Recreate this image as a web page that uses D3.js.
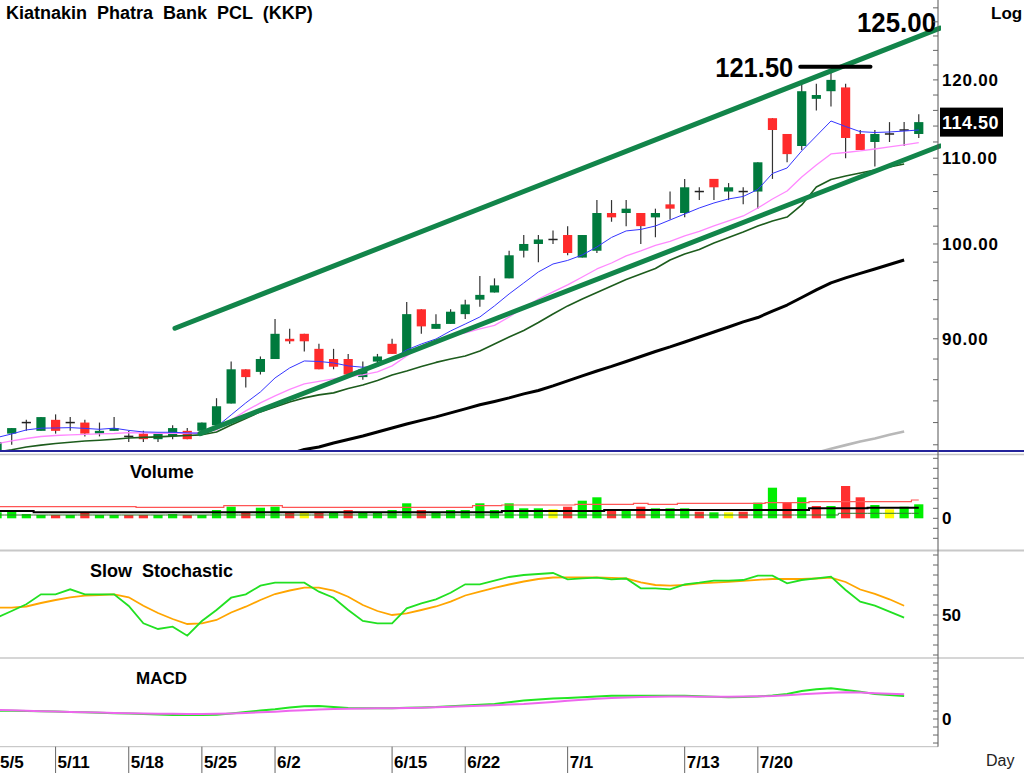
<!DOCTYPE html>
<html>
<head>
<meta charset="utf-8">
<script src="https://cdn.jsdelivr.net/npm/d3@7"></script>
<style>
body{margin:0;background:#fff}
svg{display:block}
text{font-family:Arial,"Liberation Sans",sans-serif}
</style>
</head>
<body>
<div id="chart"></div>
<script>
// trading days
var dates = ["5/5","5/6","5/7","5/8",
  "5/11","5/12","5/13","5/14","5/15",
  "5/18","5/19","5/20","5/21","5/22",
  "5/25","5/26","5/27","5/28","5/29",
  "6/2","6/4","6/5",
  "6/8","6/9","6/10","6/11","6/12",
  "6/15","6/16","6/17","6/18","6/19",
  "6/22","6/23","6/24","6/25","6/26",
  "6/29","6/30",
  "7/1","7/2","7/3",
  "7/6","7/7","7/8","7/9","7/10",
  "7/13","7/14","7/15","7/16","7/17",
  "7/20","7/21","7/22","7/23","7/24",
  "7/27","7/29","7/30","7/31",
  "8/3","8/4","8/5"];
var tickLabels = ["5/5","5/11","5/18","5/25","6/2","6/15","6/22","7/1","7/13","7/20"];

var opens  = [79.5,81,82,81.25,82.25,82,82,81,81.25,80.75, 81,80.5,80.75,81.25,81.25,81.75,83.75,87,86.75,88,
  90,90.5,89,88,88,86.25,87.75,89.5,88.5,93, 91,91.5,92.5,94,94.75,96.25,99.25,100,100.5,101,
  98.5,99.25,103.5,103.5,103.5,103,104.5,103.5,106,107.5, 106,106,106,115,113,111.5,117.5,118.5,119,113,
  112,113,113.5,113];
var highs  = [80.25,81.5,82.25,82.5,82.75,82.5,82.25,82,82.5,81.25, 81.25,81,81.75,81.5,82,84.25,87.75,87,88.25,92,
  91,90.5,89.5,89,88.5,87.75,88.5,90,93.75,93, 92.5,93,94,96.5,96.25,99.25,101,101,101.5,102,
  101,105,105,105,103.5,104,106,107.5,106.5,107.5, 107,106.5,109.5,115,113,119.5,119.5,121.5,119.5,113.5,
  113.5,114.5,114.5,115.5];
var lows   = [79.5,80,81.25,81.25,81,81.25,80.75,80.75,81.25,80.25, 80.25,80.25,80.5,80.5,81.25,81.75,83.75,85.25,86.5,88,
  89.5,88.75,87,87,86.5,86,87.5,88.5,88.5,90.5, 91,91.5,92,93.25,94.75,96.25,98.5,98,100,98.75,
  98.5,99,102.5,102,100,100.75,102.75,103,105,105, 105,104.5,104,107.5,109.5,111,116,116.5,110,111,
  109,112,111.5,112.5];
var closes = [80.25,81.5,82,82.5,81.25,82,81,81.25,81.5,80.75, 80.5,81,81.5,80.5,82,83.5,87,86.25,88,90.5,
  89.75,89.75,87,87.25,86.5,87,88.25,88.5,92.5,91.25, 91.5,92.75,93.5,94.5,95.5,98.75,100,100.5,100.5,99,
  101,103.5,103,104,102,103.5,104,106.5,106,106.5, 106.5,106,109.5,113.5,110.5,118.5,118,120,112.5,111,
  113,113,113.5,114.5];

// moving averages
var maBlue = [80.65,80.97,81.33,81.49,81.51,81.54,81.47,81.39,81.49,81.29,
  81.15,81.12,81.12,81.06,81.03,81.61,82.70,83.81,84.84,86.17,
  87.13,87.81,87.76,87.62,87.33,87.20,87.28,88.01,88.89,89.48,
  89.98,90.79,91.49,92.21,93.35,94.60,95.76,96.94,97.80,98.19,
  98.79,99.67,100.73,101.46,101.63,102.02,102.70,103.39,104.08,104.66,
  105.13,105.42,106.24,108.15,108.81,110.89,112.75,114.64,113.94,113.29,
  113.19,113.25,113.37,113.50];
var maPink = [80.1,80.34,80.56,80.74,80.83,80.89,80.94,80.97,81.01,81.08,
  81.06,81.03,81.03,81.03,81.10,81.33,82.24,83.07,83.81,84.47,
  85.08,85.60,85.84,86.08,86.32,86.46,86.75,87.33,88.30,89.29,
  89.88,90.29,90.59,91.00,91.35,92.21,93.19,94.07,94.81,95.55,
  96.40,97.26,97.91,98.68,99.23,99.84,100.29,100.90,101.40,102.02,
  102.59,103.16,104.08,105.13,106.06,107.73,109.17,110.52,110.70,110.89,
  111.13,111.38,111.63,111.92];
var maGreen = [79.37,79.56,79.80,79.97,80.11,80.22,80.34,80.41,80.50,80.60,
  80.66,80.71,80.77,80.83,80.89,81.15,81.78,82.38,82.98,83.44,
  83.90,84.28,84.56,84.75,85.17,85.50,85.93,86.46,86.84,87.28,
  87.67,88.01,88.30,88.79,89.48,90.18,90.84,91.64,92.52,93.35,
  94.07,94.76,95.44,96.13,96.72,97.31,98.24,98.90,99.39,100.11,
  100.73,101.35,102.02,102.59,103.04,104.43,106.53,107.43,107.85,108.21,
  108.57,108.93,109.29,null];
var maBlack = [null,null,null,null,null,null,null,null,null,null,
  null,null,null,null,null,null,null,null,null,null,
  79.2,79.58,79.80,80.16,80.47,80.79,81.15,81.51,81.87,82.20,
  82.52,82.89,83.26,83.64,83.95,84.28,84.66,84.98,85.41,85.89,
  86.36,86.84,87.28,87.76,88.25,88.74,89.19,89.68,90.18,90.68,
  91.19,91.71,92.15,92.82,93.44,94.23,95.02,95.77,96.30,96.79,
  97.26,97.75,98.24,null];
var maGray = [null,null,null,null,null,null,null,null,null,null,
  null,null,null,null,null,null,null,null,null,null,
  null,null,null,null,null,null,null,null,null,null,
  null,null,null,null,null,null,null,null,null,null,
  null,null,null,null,null,null,null,null,null,null,
  null,null,null,null,null,null,79.3,79.64,79.97,80.29,
  80.57,80.89,81.2,null];

// trend lines: [index, price]
var trendUpper = [[12.16, 91.06], [64.45, 127.1]];
var trendLower = [[13.87, 81.0], [64.45, 111.5]];
var highMark = [54.9, 59.7];
var highValue = 121.5;
var targetValue = 125;
var lastClose = 114.5;
var priceLabels = [90, 100, 110, 120];

// volume (millions) and day direction u/d/f
var volume = [0.6,0.66,0.43,0.33,0.33,0.33,0.6,0.33,0.33,0.33,
  0.33,0.33,0.43,0.33,0.33,0.83,1.16,0.6,1.06,1.16,
  0.6,0.6,0.6,0.6,0.83,0.6,0.6,0.83,1.5,0.83,
  0.6,0.83,0.83,1.5,0.83,1.5,1.0,1.0,0.9,1.16,
  1.76,2.1,0.83,0.83,1.16,1.0,1.0,1.0,0.66,0.6,
  0.6,0.66,1.56,3.06,1.56,2.1,1.23,1.23,3.23,2.1,
  1.33,0.9,1.16,1.4];
var volDir = ["u","u","u","u","d","u","d","u","u","d",
  "d","u","u","d","u","u","u","d","u","u",
  "d","f","d","u","d","u","u","u","u","d",
  "u","u","u","u","u","u","u","u","f","d",
  "u","u","d","u","d","u","u","u","d","u",
  "f","d","u","u","d","u","d","u","d","d",
  "u","f","u","u"];
var volRed = [1.16,1.16,1.16,1.16,1.16,1.16,1.16,1.16,1.16,1.16,
  1.1,1.1,1.1,1.1,1.1,1.1,1.26,1.26,1.26,1.26,
  1.1,1.1,1.1,1.1,1.1,1.1,1.1,1.1,1.1,1.1,
  1.1,1.1,1.1,1.26,1.26,1.33,1.33,1.33,1.33,1.33,
  1.4,1.4,1.4,1.4,1.5,1.4,1.4,1.5,1.5,1.5,
  1.5,1.5,1.5,1.56,1.56,1.56,1.66,1.66,1.66,1.66,
  1.66,1.66,1.66,1.83];
var volBlack = [0.73,0.73,0.73,0.6,0.6,0.6,0.6,0.6,0.6,0.6,
  0.6,0.6,0.6,0.6,0.6,0.6,0.6,0.6,0.6,0.6,
  0.6,0.6,0.6,0.6,0.6,0.6,0.6,0.6,0.6,0.6,
  0.6,0.6,0.6,0.6,0.6,0.73,0.73,0.73,0.73,0.73,
  0.73,0.73,0.83,0.83,0.83,0.83,0.83,0.83,0.83,0.83,
  0.83,0.83,0.83,0.83,0.83,0.83,1.0,1.0,1.0,1.0,
  1.06,1.06,1.06,1.06];
var volGreen = [0.33,0.33,0.33,0.33,0.33,0.33,0.33,0.33,0.33,0.33,
  0.33,0.33,0.33,0.33,0.33,0.33,0.33,0.33,0.33,0.33,
  0.33,0.33,0.33,0.33,0.33,0.33,0.33,0.33,0.33,0.33,
  0.33,0.33,0.33,0.33,0.33,0.33,0.33,0.33,0.33,0.33,
  0.33,0.33,0.33,0.33,0.33,0.33,0.33,0.33,0.33,0.33,
  0.33,0.33,0.33,0.33,0.33,0.33,0.33,0.33,0.5,0.5,
  0.5,0.5,0.5,0.5];

// slow stochastic
var stochK = [47.3,54,60.7,70.7,70.7,75.7,70.7,70.7,70.7,59,
  41.7,36,38.3,29.3,44,55,67.3,70.7,79.3,82.3,
  82.3,82.3,73.3,67.3,55,44,41.7,41.7,56.7,61.7,
  65.7,72.3,80.7,80.7,84.3,88,90,91,92,85.7,
  86.7,87.3,85.7,86.5,76.7,76.7,75.7,80.7,82.3,84.3,
  84.3,85,89.3,89.3,81.7,85,86.7,88.3,75,63.3,
  59.3,53.3,47.3];
var stochD = [57.3,57.3,58.5,62,65,67.7,69.3,70,70.7,67.7,
  59.3,52,46,41,41.7,45,52.5,58.3,65,71,
  74.5,77.3,77.3,74.3,68.3,60,54,50,51.7,55,
  58.5,63.3,69.5,73.3,77.2,80.5,83.5,86,87.5,87.7,
  87.7,87.7,87.2,86.5,82.7,80,79.4,80,81.7,82.3,
  83.2,84.2,85.2,86,86,86,86.5,87.3,83,75.5,
  71.2,65.7,59.3];

// MACD
var macdLine = [1.04,1.02,1.0,0.97,0.94,0.89,0.84,0.79,0.73,0.68,
  0.63,0.56,0.5,0.5,0.5,0.52,0.69,0.88,1.06,1.21,
  1.44,1.6,1.63,1.5,1.38,1.34,1.33,1.34,1.4,1.45,
  1.5,1.6,1.69,1.78,1.88,2.1,2.31,2.45,2.56,2.64,
  2.71,2.82,2.91,2.92,2.92,2.91,2.92,2.91,2.85,2.78,
  2.71,2.74,2.81,2.94,3.13,3.5,3.71,3.84,3.63,3.4,
  3.13,3.0,2.88];
var macdSignal = [1.13,1.08,1.02,0.97,0.93,0.89,0.84,0.8,0.76,0.72,
  0.69,0.67,0.65,0.63,0.63,0.65,0.7,0.76,0.83,0.92,
  1.02,1.11,1.19,1.24,1.28,1.31,1.33,1.34,1.37,1.41,
  1.46,1.52,1.59,1.66,1.73,1.81,1.88,2.0,2.13,2.27,
  2.41,2.52,2.62,2.7,2.76,2.79,2.8,2.8,2.79,2.79,
  2.79,2.8,2.83,2.88,2.98,3.08,3.2,3.28,3.33,3.3,
  3.22,3.16,3.09];

var W = 1024, H = 773, axisX = 938;
var mainBottom = 451, volTop = 456, volBottom = 548, stTop = 552, stBottom = 658, mTop = 659, mBottom = 746.7;

var svg = d3.select("#chart").append("svg").attr("width", W).attr("height", H);

var x = d3.scaleLinear().domain([0, dates.length - 1]).range([-2.93, -2.93 + 14.63 * (dates.length - 1)]);
var y = d3.scaleLog().domain([79.45, 131.14]).range([mainBottom, 0]);
var yVol = d3.scaleLinear().domain([-2.97, 6.23]).range([volBottom, volTop]);
var ySt = d3.scaleLinear().domain([7, 113]).range([stBottom, stTop]);
var yM = d3.scaleLinear().domain([-3.46, 7.5]).range([mBottom, mTop]);
var idx = d3.range(dates.length);

// double spaces as in the original labels
function wide(s){ return s.replace(/  /g, " \u00a0"); }

var defs = svg.append("defs");
function clip(id, x0, y0, w, h){
  defs.append("clipPath").attr("id", id).append("rect").attr("x", x0).attr("y", y0).attr("width", w).attr("height", h);
}
clip("cMain", 0, 0, axisX, mainBottom);
clip("cTrend", 0, 0, axisX + 3, mainBottom);
clip("cVol", 0, volTop, axisX, volBottom - volTop);
clip("cSt", 0, stTop, axisX, stBottom - stTop);
clip("cM", 0, mTop, axisX, mBottom - mTop);

// ---------- main price panel ----------
var gMain = svg.append("g").attr("clip-path", "url(#cMain)");

gMain.selectAll(".wick").data(idx).enter().append("line")
  .attr("x1", function(i){ return x(i); }).attr("x2", function(i){ return x(i); })
  .attr("y1", function(i){ return y(highs[i]); }).attr("y2", function(i){ return y(lows[i]); })
  .attr("stroke", "#333").attr("stroke-width", 1.2);

gMain.selectAll(".body").data(idx).enter().append("rect")
  .attr("x", function(i){ return x(i) - 4.6; })
  .attr("width", 9.2)
  .attr("y", function(i){
    if (opens[i] == closes[i]) return y(opens[i]) - 0.75;
    return y(Math.max(opens[i], closes[i]));
  })
  .attr("height", function(i){ return Math.max(1.5, Math.abs(y(opens[i]) - y(closes[i]))); })
  .attr("fill", function(i){
    if (closes[i] > opens[i]) return "#007a3d";
    if (closes[i] < opens[i]) return "#ff2b2b";
    return "#222";
  });

function maLine(arr, color, w){
  var line = d3.line().defined(function(d){ return d != null; })
    .x(function(d, i){ return x(i); }).y(function(d){ return y(d); });
  gMain.append("path").datum(arr).attr("d", line)
    .attr("fill", "none").attr("stroke", color).attr("stroke-width", w).attr("stroke-linejoin", "round");
}
maLine(maGray, "#b8b8b8", 2.6);
maLine(maBlack, "#000", 3);
maLine(maGreen, "#1d5c1d", 1.6);
maLine(maPink, "#ff88ff", 1.3);
maLine(maBlue, "#3535ff", 1);

var gTrend = svg.append("g").attr("clip-path", "url(#cTrend)");
var tLine = d3.line().x(function(d){ return x(d[0]); }).y(function(d){ return y(d[1]); });
[trendUpper, trendLower].forEach(function(t){
  gTrend.append("path").datum(t).attr("d", tLine)
    .attr("fill", "none").attr("stroke", "#12854a").attr("stroke-width", 5).attr("stroke-linecap", "round");
});

// high marker and labels
svg.append("line")
  .attr("x1", x(highMark[0])).attr("x2", x(highMark[1]))
  .attr("y1", y(highValue) - 2).attr("y2", y(highValue) - 2)
  .attr("stroke", "#000").attr("stroke-width", 4).attr("stroke-linecap", "round");
svg.append("text").attr("x", x(highMark[0]) - 7).attr("y", y(highValue) + 8.5)
  .attr("text-anchor", "end").attr("font-size", 27).attr("font-weight", "bold")
  .attr("textLength", 78).attr("lengthAdjust", "spacingAndGlyphs")
  .text(highValue.toFixed(2));
svg.append("text").attr("x", axisX - 2).attr("y", y(targetValue) - 11)
  .attr("text-anchor", "end").attr("font-size", 28).attr("font-weight", "bold")
  .attr("textLength", 79).attr("lengthAdjust", "spacingAndGlyphs")
  .text(targetValue.toFixed(2));

// title
svg.append("text").attr("x", 6).attr("y", 18.5).attr("font-size", 18).attr("font-weight", "bold")
  .text(wide("Kiatnakin  Phatra  Bank  PCL  (KKP)"));
svg.append("text").attr("x", 991).attr("y", 18.5).attr("font-size", 17).attr("font-weight", "bold").text("Log");

// ---------- separators ----------
svg.append("line").attr("x1", 0).attr("x2", W).attr("y1", mainBottom).attr("y2", mainBottom)
  .attr("stroke", "#23239a").attr("stroke-width", 2);
svg.append("line").attr("x1", 0).attr("x2", W).attr("y1", 454.5).attr("y2", 454.5)
  .attr("stroke", "#c4c4c4").attr("stroke-width", 1.5);
svg.append("line").attr("x1", 0).attr("x2", W).attr("y1", 550.5).attr("y2", 550.5)
  .attr("stroke", "#c8c8c8").attr("stroke-width", 2);
svg.append("line").attr("x1", 0).attr("x2", W).attr("y1", stBottom).attr("y2", stBottom)
  .attr("stroke", "#c8c8c8").attr("stroke-width", 1.5);
svg.append("line").attr("x1", 0).attr("x2", axisX).attr("y1", mBottom).attr("y2", mBottom)
  .attr("stroke", "#bdbdbd").attr("stroke-width", 1);

// ---------- right axes ----------
svg.append("line").attr("x1", axisX).attr("x2", axisX).attr("y1", 0).attr("y2", mBottom)
  .attr("stroke", "#555").attr("stroke-width", 1);

function ticks(vals, sc, lo, hi){
  svg.append("g").selectAll("line").data(vals.filter(function(v){ var p = sc(v); return p >= lo && p <= hi; }))
    .enter().append("line")
    .attr("x1", axisX - 5).attr("x2", axisX)
    .attr("y1", function(v){ return sc(v); }).attr("y2", function(v){ return sc(v); })
    .attr("stroke", "#666").attr("stroke-width", 1);
}
ticks(d3.range(80, 132, 2), y, 2, mainBottom - 2);
ticks(d3.range(-3, 7, 1), yVol, volTop + 1, volBottom - 1);
ticks(d3.range(0, 120, 10), ySt, stTop + 1, stBottom - 1);
ticks(d3.range(-3, 8, 1), yM, mTop + 1, mBottom - 1);

svg.append("g").selectAll("text").data(priceLabels).enter().append("text")
  .attr("x", axisX + 4).attr("y", function(v){ return y(v) + 6; })
  .attr("font-size", 17).attr("font-weight", "bold").attr("letter-spacing", 0.8)
  .text(function(v){ return v.toFixed(2); });

svg.append("rect").attr("x", axisX + 2).attr("y", y(lastClose) - 14.5).attr("width", 63).attr("height", 29).attr("fill", "#000");
svg.append("text").attr("x", axisX + 4).attr("y", y(lastClose) + 6.5)
  .attr("font-size", 18).attr("font-weight", "bold").attr("fill", "#fff").attr("letter-spacing", 0.5)
  .text(lastClose.toFixed(2));

function axisLabel(txt, py){
  svg.append("text").attr("x", axisX + 4).attr("y", py + 6).attr("font-size", 17).attr("font-weight", "bold").text(txt);
}
axisLabel("0", yVol(0));
axisLabel("50", ySt(50));
axisLabel("0", yM(0));

// ---------- volume ----------
var gVol = svg.append("g").attr("clip-path", "url(#cVol)");
var volColor = {u: "#00ee00", d: "#ff3030", f: "#ffff00"};
gVol.selectAll("rect").data(idx).enter().append("rect")
  .attr("x", function(i){ return x(i) - 4.6; }).attr("width", 9.2)
  .attr("y", function(i){ return yVol(volume[i]); })
  .attr("height", function(i){ return yVol(0) - yVol(volume[i]); })
  .attr("fill", function(i){ return volColor[volDir[i]]; });
function volLine(arr, color, w){
  var l = d3.line().curve(d3.curveStep).x(function(d, i){ return x(i); }).y(function(d){ return yVol(d); });
  gVol.append("path").datum(arr).attr("d", l).attr("fill", "none").attr("stroke", color).attr("stroke-width", w);
}
volLine(volGreen, "#2f7a2f", 1);
volLine(volRed, "#ff5555", 1.2);
volLine(volBlack, "#000", 2);
svg.append("text").attr("x", 130).attr("y", 478).attr("font-size", 18).attr("font-weight", "bold").text("Volume");

// ---------- slow stochastic ----------
var gSt = svg.append("g").attr("clip-path", "url(#cSt)");
function stLine(arr, color){
  var l = d3.line().x(function(d, i){ return x(i); }).y(function(d){ return ySt(d); });
  gSt.append("path").datum(arr).attr("d", l).attr("fill", "none").attr("stroke", color).attr("stroke-width", 1.8);
}
stLine(stochD, "#ffa500");
stLine(stochK, "#22e022");
svg.append("text").attr("x", 90).attr("y", 577).attr("font-size", 18).attr("font-weight", "bold")
  .text(wide("Slow  Stochastic"));

// ---------- MACD ----------
var gM = svg.append("g").attr("clip-path", "url(#cM)");
function mLine(arr, color){
  var l = d3.line().x(function(d, i){ return x(i); }).y(function(d){ return yM(d); });
  gM.append("path").datum(arr).attr("d", l).attr("fill", "none").attr("stroke", color).attr("stroke-width", 2);
}
mLine(macdLine, "#22e622");
mLine(macdSignal, "#ee66ee");
svg.append("text").attr("x", 136).attr("y", 684).attr("font-size", 17).attr("font-weight", "bold").text("MACD");

// ---------- date axis ----------
var tickIdx = tickLabels.map(function(t){ return dates.indexOf(t); });
var gX = svg.append("g");
gX.selectAll("line").data(tickIdx).enter().append("line")
  .attr("x1", function(i){ return x(i); }).attr("x2", function(i){ return x(i); })
  .attr("y1", mBottom).attr("y2", H)
  .attr("stroke", "#666").attr("stroke-width", 1);
gX.selectAll("text").data(tickIdx).enter().append("text")
  .attr("x", function(i){ return Math.max(0, x(i) + 2); }).attr("y", 768)
  .attr("font-size", 17).attr("font-weight", "bold")
  .text(function(i){ return dates[i]; });
svg.append("text").attr("x", 986).attr("y", 766).attr("font-size", 16).attr("fill", "#222").text("Day");
</script>
</body>
</html>
